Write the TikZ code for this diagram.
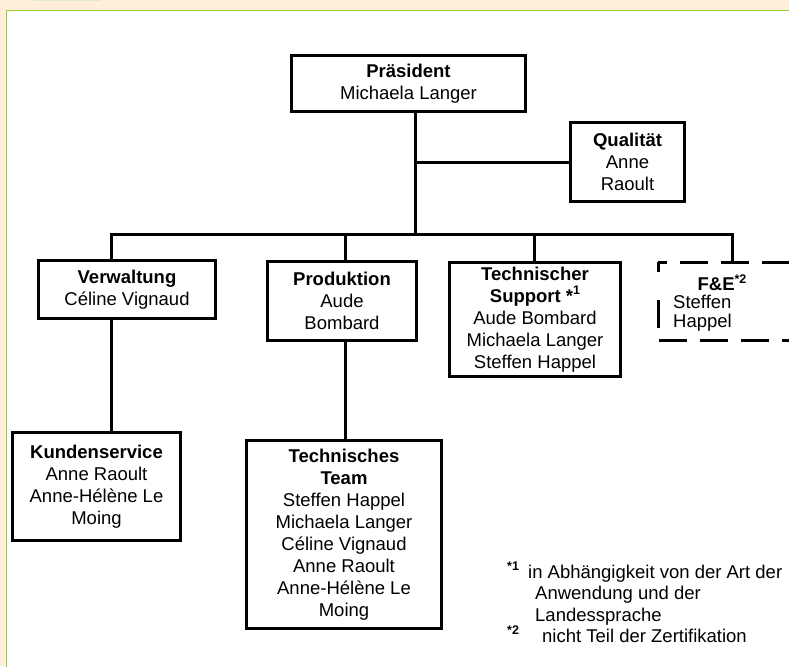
\documentclass[tikz,border=0pt]{standalone}
\usepackage{fontspec}
\setmainfont{Liberation Sans}
\definecolor{peach}{RGB}{255,239,218}
\definecolor{frameGreen}{RGB}{154,205,50}
\definecolor{tabGreen}{RGB}{221,237,196}
\newcommand{\supmark}[1]{\raisebox{0.75ex}{\fontsize{12.5}{12.5}\selectfont\bfseries #1}}
\begin{document}
\begin{tikzpicture}[x=1pt,y=-1pt,
  orgbox/.style={draw, line width=3pt, align=center, inner sep=0pt,
    font=\fontsize{18.5}{22}\selectfont},
  conn/.style={line width=3pt},
  plain/.style={inner sep=0pt, font=\fontsize{18.5}{22}\selectfont},
  dashbox/.style={line width=3pt, dash pattern=on 28pt off 13pt}
]
\useasboundingbox (0,0) rectangle (789,666);
\clip (0,0) rectangle (789,666);
\fill[peach] (0,0) rectangle (789,666);
\fill[white] (6.5,10.5) rectangle (790,667);
\draw[frameGreen, line width=1.6pt] (6.5,667) -- (6.5,10.5) -- (790,10.5);
\fill[tabGreen] (33,0) rectangle (101,1.4);

% boxes
\node[orgbox, minimum width=234pt, minimum height=56pt] (pres) at (408.5,83.5)
  {\textbf{Präsident}\\Michaela Langer};
\node[orgbox, minimum width=114pt, minimum height=79pt] (qual) at (627.5,162)
  {\textbf{Qualität}\\Anne\\Raoult};
\node[orgbox, minimum width=177pt, minimum height=58pt] (verw) at (127,289.5)
  {\textbf{Verwaltung}\\Céline Vignaud};
\node[orgbox, minimum width=149pt, minimum height=79pt] (prod) at (342,301)
  {\textbf{Produktion}\\Aude\\Bombard};
\node[orgbox, minimum width=171pt, minimum height=114pt] (tsup) at (535,319.5)
  {\textbf{Technischer}\\\textbf{Support *}\supmark{1}\\Aude Bombard\\Michaela Langer\\Steffen Happel};
\node[orgbox, minimum width=168pt, minimum height=108pt] (kund) at (96.5,486.5)
  {\textbf{Kundenservice}\\Anne Raoult\\Anne-Hélène Le\\Moing};
\node[orgbox, minimum width=195pt, minimum height=188pt] (team) at (344,534.5)
  {\textbf{Technisches}\\\textbf{Team}\\Steffen Happel\\Michaela Langer\\Céline Vignaud\\Anne Raoult\\Anne-Hélène Le\\Moing};

% F&E dashed box (extends past the right edge)
\coordinate (feNE) at (800,262);
\coordinate (feNW) at (658,262);
\coordinate (feSW) at (658,340);
\coordinate (feSE) at (800,340);
\draw[dashbox, dash phase=19pt] (feNW) -- (feNE);
\draw[dashbox] (feNW |- 0,272) -- (feNW);
\draw[dashbox, dash phase=0pt] (658,300) -- (feSW) -- (feSE);
\node[plain, font=\fontsize{18.5}{22}\selectfont\bfseries] (fetitle) at (722,283) {F\&E\supmark{*2}};
\node[plain, anchor=west] (fe1) at (673,302) {Steffen};
\node[plain, anchor=west] (fe2) at (673,323) {Happel};

% connectors
\coordinate (trunk) at (415,234);
\coordinate (busL) at (111,234);
\coordinate (busR) at (732,234);
\coordinate (jP) at (345,234);
\coordinate (jT) at (534,234);
\draw[conn] (pres.south -| trunk) -- (trunk);
\draw[conn] (trunk |- qual.west) -- (qual.west);
\draw[conn] (verw.north -| busL) -- (busL) -- (busR) -- (feNW -| busR);
\draw[conn] (jP) -- (prod.north -| jP);
\draw[conn] (jT) -- (tsup.north -| jT);
\draw[conn] (verw.south -| busL) -- (kund.north -| busL);
\draw[conn] (prod.south -| jP) -- (team.north -| jP);

% footnotes
\node[plain, anchor=base west] (fn1m) at (507,578) {\supmark{*1}};
\node[plain, anchor=base west] (fn1a) at (528,578) {in Abhängigkeit von der Art der};
\node[plain, anchor=base west] (fn1b) at (535,599.5) {Anwendung und der};
\node[plain, anchor=base west] (fn1c) at (535,621) {Landessprache};
\node[plain, anchor=base west] (fn2m) at (507,642) {\supmark{*2}};
\node[plain, anchor=base west] (fn2a) at (542,642) {nicht Teil der Zertifikation};
\end{tikzpicture}
\end{document}
